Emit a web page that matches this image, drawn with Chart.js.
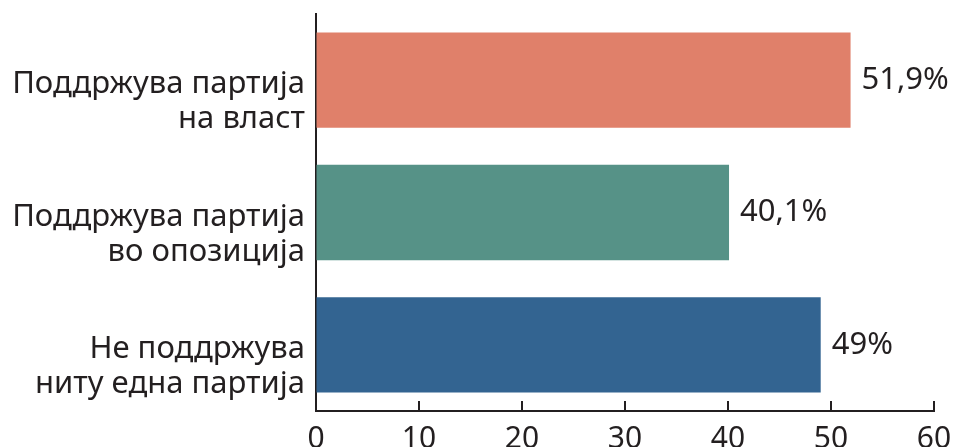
<!DOCTYPE html>
<html>
<head>
<meta charset="utf-8">
<script src="https://cdn.jsdelivr.net/npm/chart.js@4.4.0/dist/chart.umd.min.js"></script>
<style>
  html, body { margin: 0; padding: 0; background: #fff; overflow: hidden; }
  canvas { display: block; }
</style>
</head>
<body>
<canvas id="supportChart" width="954" height="462"></canvas>
<script>
// categories (two-line labels)
var categories = [
    ['Поддржува партија', 'на власт'],
    ['Поддржува партија', 'во опозиција'],
    ['Не поддржува', 'ниту една партија']
];
var values = [51.9, 40.1, 49];
var barColors = ['#E0806A', '#569287', '#336491'];
var xTicks = [0, 10, 20, 30, 40, 50, 60];

var textColor = '#231F20';
var fontName = "'Noto Sans', sans-serif";

// small ticks pointing up from the x axis
var innerTicks = {
    id: 'innerTicks',
    afterDraw: function (chart) {
        var ctx = chart.ctx;
        var x = chart.scales.x;
        ctx.save();
        ctx.strokeStyle = textColor;
        ctx.lineWidth = 2;
        xTicks.forEach(function (t) {
            if (t === 0) return;
            var px = x.getPixelForValue(t);
            ctx.beginPath();
            ctx.moveTo(px, x.top);
            ctx.lineTo(px, x.top - 10);
            ctx.stroke();
        });
        ctx.restore();
    }
};

// value labels at bar ends
var valueLabels = {
    id: 'valueLabels',
    afterDatasetsDraw: function (chart) {
        var ctx = chart.ctx;
        var meta = chart.getDatasetMeta(0);
        ctx.save();
        ctx.fillStyle = textColor;
        ctx.font = '31px ' + fontName;
        ctx.textAlign = 'left';
        ctx.textBaseline = 'middle';
        meta.data.forEach(function (bar, i) {
            var txt = String(values[i]).replace('.', ',') + '%';
            ctx.fillText(txt, bar.x + 11, bar.y);
        });
        ctx.restore();
    }
};

var ctx = document.getElementById('supportChart').getContext('2d');
new Chart(ctx, {
    type: 'bar',
    data: {
        labels: categories,
        datasets: [{
            data: values,
            backgroundColor: barColors,
            borderWidth: 0,
            categoryPercentage: 0.8,
            barPercentage: 0.9
        }]
    },
    options: {
        indexAxis: 'y',
        responsive: false,
        animation: false,
        layout: { padding: { top: 14, right: 0, bottom: 0, left: 0 } },
        plugins: {
            legend: { display: false },
            tooltip: { enabled: false }
        },
        scales: {
            x: {
                min: 0,
                max: 60,
                afterBuildTicks: function (scale) {
                    scale.ticks = xTicks.map(function (v) { return { value: v }; });
                },
                afterFit: function (scale) {
                    scale.height = 51;
                    scale.paddingLeft = 0;
                    scale.paddingRight = 20;
                },
                grid: { drawOnChartArea: false, drawTicks: false },
                border: { display: true, color: textColor, width: 2 },
                ticks: {
                    color: textColor,
                    padding: 10,
                    font: { family: fontName, size: 30 },
                    maxRotation: 0
                }
            },
            y: {
                afterFit: function (scale) {
                    scale.width = 316;
                    scale.paddingTop = 0;
                    scale.paddingBottom = 0;
                },
                grid: { drawOnChartArea: false, drawTicks: false },
                border: { display: true, color: textColor, width: 2 },
                ticks: {
                    color: textColor,
                    padding: 11,
                    labelOffset: 22,
                    font: { family: fontName, size: 31, lineHeight: '35px' }
                }
            }
        }
    },
    plugins: [innerTicks, valueLabels]
});
</script>
</body>
</html>
